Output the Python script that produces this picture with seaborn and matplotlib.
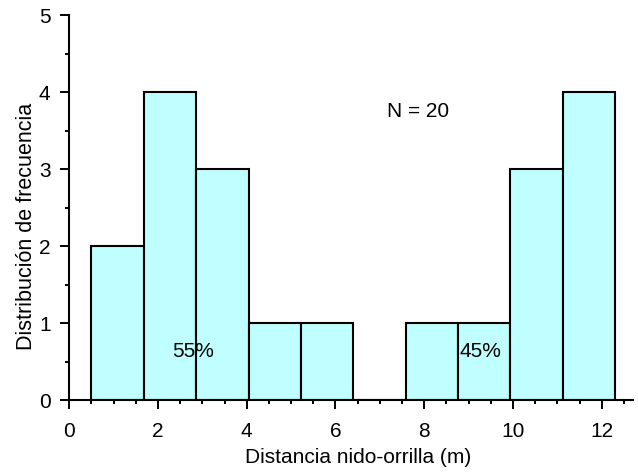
import numpy as np
import matplotlib
matplotlib.use("Agg")
import matplotlib.pyplot as plt
import seaborn as sns
from matplotlib.ticker import MultipleLocator

# Nest-to-shore distance histogram (10 bins)
bin_edges = [0.5, 1.68, 2.86, 4.04, 5.22, 6.40, 7.58, 8.76, 9.94, 11.12, 12.30]
counts = [2, 4, 3, 1, 1, 0, 1, 1, 3, 4]
n_total = 20
share_labels = ["55%", "45%"]

centers = [(a + b) / 2 for a, b in zip(bin_edges[:-1], bin_edges[1:])]

sns.set_style("ticks")
plt.rcParams["font.family"] = ["Liberation Sans", "DejaVu Sans"]
plt.rcParams["font.size"] = 15
plt.rcParams["text.color"] = "black"
plt.rcParams["axes.labelcolor"] = "black"

fig = plt.figure(figsize=(6.38, 4.72), dpi=100)
ax = fig.add_axes([0.1086, 0.1525, 0.8832, 0.8157])

sns.histplot(x=centers, weights=counts, bins=bin_edges, ax=ax,
             color="#BFFFFF", alpha=1.0, edgecolor="black", linewidth=1.5)

ax.set_xlim(0, 12.7)
ax.set_ylim(0, 5)
ax.xaxis.set_major_locator(MultipleLocator(2))
ax.xaxis.set_minor_locator(MultipleLocator(0.5))
ax.yaxis.set_major_locator(MultipleLocator(1))
ax.yaxis.set_minor_locator(MultipleLocator(0.5))
ax.tick_params(which="major", direction="out", length=6.5, width=1.4,
               labelsize=15, color="black", labelcolor="black")
ax.tick_params(axis="x", which="major", pad=9)
ax.tick_params(axis="y", which="major", pad=7)
ax.tick_params(which="minor", direction="out", length=3, width=1.4, color="black")

for side in ("top", "right"):
    ax.spines[side].set_visible(False)
for side in ("left", "bottom"):
    ax.spines[side].set_linewidth(1.5)
    ax.spines[side].set_color("black")

ax.set_xlabel("Distancia nido-orrilla (m)", fontsize=15, color="black")
ax.set_ylabel("Distribución de frecuencia", fontsize=15.5, color="black")
ax.xaxis.set_label_coords(0.512, -0.125)
ax.yaxis.set_label_coords(-0.057, 0.45)

ax.text(7.16, 3.75, f"N = {n_total}", ha="left", va="center", fontsize=15, color="black")
ax.text(2.78, 0.63, share_labels[0], ha="center", va="center", fontsize=15, color="black")
ax.text(9.27, 0.63, share_labels[1], ha="center", va="center", fontsize=15, color="black")

fig.savefig("out.png", dpi=100)
